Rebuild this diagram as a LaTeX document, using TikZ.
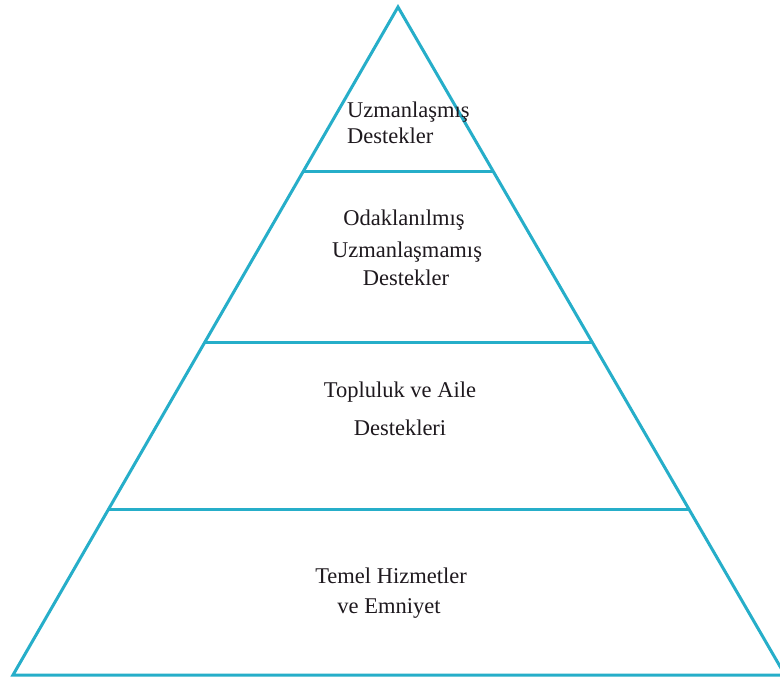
\documentclass[tikz,border=0pt]{standalone}
\usepackage{fontspec}
\setmainfont{Liberation Serif}
\usetikzlibrary{calc}
\definecolor{pyr}{RGB}{38,174,201}
\definecolor{txt}{RGB}{30,25,30}
\tikzset{
  edge/.style={draw=pyr, line width=3pt, line join=miter},
  lbl/.style={inner sep=0pt, text=txt, font=\fontsize{22.5}{27}\selectfont},
}
\begin{document}
\begin{tikzpicture}[x=1pt, y=-1pt]
\useasboundingbox (0,0) rectangle (780,678);
\fill[white] (0,0) rectangle (780,678);
\clip (0,0) rectangle (780,678);
\coordinate (apex) at (398,7);
\coordinate (bl) at (13,675);
\coordinate (br) at (785,675);
\coordinate (l1) at ($(apex)!0.247!(bl)$);
\coordinate (r1) at ($(apex)!0.247!(br)$);
\coordinate (l2) at ($(apex)!0.5015!(bl)$);
\coordinate (r2) at ($(apex)!0.5015!(br)$);
\coordinate (l3) at ($(apex)!0.7515!(bl)$);
\coordinate (r3) at ($(apex)!0.7515!(br)$);
\draw[edge] (apex) -- (bl) -- (br) -- cycle;
\draw[edge] (l1) -- (r1);
\draw[edge] (l2) -- (r2);
\draw[edge] (l3) -- (r3);
% level 1
\node[lbl, anchor=base west] (t1a) at (347,117) {Uzmanlaşmış};
\node[lbl, anchor=base west] (t1b) at (347,143) {Destekler};
% level 2
\node[lbl, anchor=base] (t2a) at (404,225) {Odaklanılmış};
\node[lbl, anchor=base] (t2b) at (407,257) {Uzmanlaşmamış};
\node[lbl, anchor=base] (t2c) at (406,285) {Destekler};
% level 3
\node[lbl, anchor=base] (t3a) at (400,397) {Topluluk ve Aile};
\node[lbl, anchor=base] (t3b) at (400,435) {Destekleri};
% level 4
\node[lbl, anchor=base] (t4a) at (391,583) {Temel Hizmetler};
\node[lbl, anchor=base] (t4b) at (389,613) {ve Emniyet};
\end{tikzpicture}
\end{document}
